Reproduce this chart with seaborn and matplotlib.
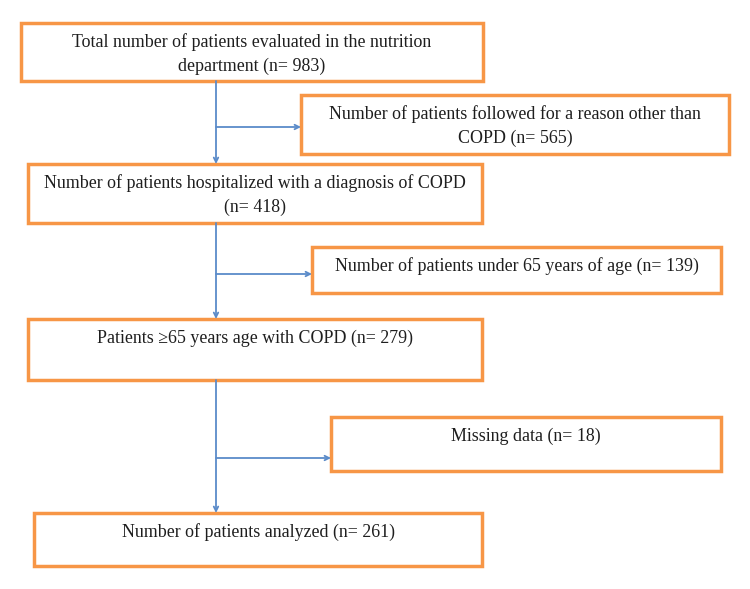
import matplotlib
matplotlib.use("Agg")
import matplotlib.pyplot as plt
import seaborn as sns
from matplotlib.patches import Rectangle

# -------------------------------
# FLOW DATA
# -------------------------------
main_texts = [
    "Total number of patients evaluated in the nutrition\ndepartment",
    "Number of patients hospitalized with a diagnosis of COPD\n",
    "Patients \u226565 years age with COPD",
    "Number of patients analyzed",
]
side_texts = [
    "Number of patients followed for a reason other than\nCOPD",
    "Number of patients under 65 years of age",
    "Missing data",
]
main_counts = [983, 418, 279, 261]
excluded_counts = [565, 139, 18]

main_labels = [f"{t} (n= {n})".replace("\n (", "\n(") for t, n in zip(main_texts, main_counts)]
side_labels = [f"{t} (n= {n})" for t, n in zip(side_texts, excluded_counts)]

# box geometry in pixels: (left, top, right, bottom)
main_boxes = [(21, 23, 483, 81), (28, 164, 482, 223), (28, 319, 482, 380), (34, 513, 482, 566)]
side_boxes = [(301, 95, 729, 154), (312, 247, 721, 293), (331, 417, 721, 471)]
branch_y = [127, 274, 458]
trunk_x = 216

box_color = "#F79646"
line_color = "#5B8BC9"
text_color = "#1E1E1E"

sns.set_theme(style="white")
plt.rcParams["font.family"] = ["Liberation Serif", "DejaVu Serif"]

fig = plt.figure(figsize=(7.5, 5.89), dpi=100)
ax = fig.add_axes([0, 0, 1, 1])
ax.set_xlim(0, 750)
ax.set_ylim(589, 0)
ax.axis("off")


def draw_box(box, label):
    x0, y0, x1, y1 = box
    ax.add_patch(Rectangle((x0, y0), x1 - x0, y1 - y0, fill=False,
                           edgecolor=box_color, linewidth=2.5))
    for i, line in enumerate(label.split("\n")):
        ax.text((x0 + x1) / 2, y0 + 19 + i * 24, line, ha="center", va="center",
                fontsize=12.9, color=text_color)


for box, label in zip(main_boxes, main_labels):
    draw_box(box, label)
for box, label in zip(side_boxes, side_labels):
    draw_box(box, label)

arrow_kw = dict(arrowstyle="->", color=line_color, lw=1.3, mutation_scale=8,
                shrinkA=0, shrinkB=0)

# vertical trunk arrows and side branches
for i in range(3):
    top = main_boxes[i][3]
    bottom = main_boxes[i + 1][1]
    ax.annotate("", xy=(trunk_x, bottom), xytext=(trunk_x, top), arrowprops=arrow_kw)
    ax.annotate("", xy=(side_boxes[i][0], branch_y[i]), xytext=(trunk_x, branch_y[i]),
                arrowprops=arrow_kw)

plt.savefig("out.png", dpi=100)
